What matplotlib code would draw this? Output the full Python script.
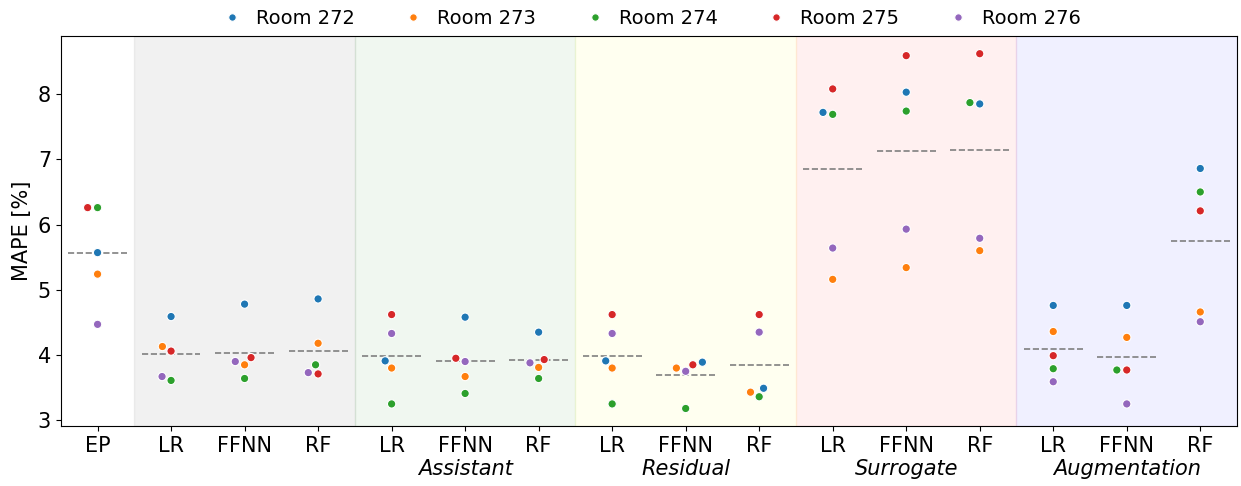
import matplotlib
matplotlib.use("Agg")
import matplotlib.pyplot as plt
import numpy as np
import pandas as pd
import seaborn as sns

rooms = ['Room 272', 'Room 273', 'Room 274', 'Room 275', 'Room 276']
models = ['EP',
          'LR', 'FFNN', 'RF',
          'LR', 'FFNN', 'RF',
          'LR', 'FFNN', 'RF',
          'LR', 'FFNN', 'RF',
          'LR', 'FFNN', 'RF']
groups = ['', 'Assistant', 'Residual', 'Surrogate', 'Augmentation']
group_colors = ['gray', 'green', 'yellow', 'red', 'blue']
group_alpha = [0.11, 0.06, 0.06, 0.06, 0.06]

# MAPE per room, one list per room, 16 model columns in order above
mape_272 = [5.57, 4.59, 4.78, 4.86, 3.91, 4.58, 4.35, 3.91, 3.89, 3.49,
            7.72, 8.03, 7.85, 4.76, 4.76, 6.86]
mape_273 = [5.24, 4.13, 3.85, 4.18, 3.80, 3.67, 3.81, 3.80, 3.80, 3.43,
            5.16, 5.34, 5.60, 4.36, 4.27, 4.66]
mape_274 = [6.26, 3.61, 3.64, 3.85, 3.25, 3.41, 3.64, 3.25, 3.18, 3.36,
            7.69, 7.74, 7.87, 3.79, 3.77, 6.50]
mape_275 = [6.26, 4.06, 3.96, 3.71, 4.62, 3.95, 3.93, 4.62, 3.85, 4.62,
            8.08, 8.59, 8.62, 3.99, 3.77, 6.21]
mape_276 = [4.47, 3.67, 3.90, 3.73, 4.33, 3.90, 3.88, 4.33, 3.75, 4.35,
            5.64, 5.93, 5.79, 3.59, 3.25, 4.51]

values = np.array([mape_272, mape_273, mape_274, mape_275, mape_276])
n = len(models)

rows = []
for r, room in enumerate(rooms):
    for i in range(n):
        rows.append({'pos': i, 'room': room, 'mape': values[r, i]})
df = pd.DataFrame(rows)

fig, ax = plt.subplots(figsize=(12.41, 4.86), dpi=100)
fig.subplots_adjust(left=0.049, right=0.9968, top=0.926, bottom=0.123)

# background spans for each group of three models
for g in range(5):
    ax.axvspan(0.5 + 3 * g, 3.5 + 3 * g, color=group_colors[g],
               alpha=group_alpha[g], zorder=0)

sns.swarmplot(data=df, x='pos', y='mape', hue='room', order=list(range(n)),
              hue_order=rooms, size=6, edgecolor='white', linewidth=0.8,
              palette='tab10', ax=ax, zorder=3)

# mean line per model
means = values.mean(axis=0)
for i in range(n):
    ax.hlines(means[i], i - 0.4, i + 0.4, colors='gray', linestyles='--',
              linewidth=1.2, zorder=2)

ax.set_xlim(-0.5, n - 0.5)
ax.set_xticks(range(n))
ax.set_xticklabels(models)
ax.tick_params(axis='both', labelsize=15)
ax.set_xlabel('')
ax.set_ylabel('MAPE [%]', fontsize=15)

for g in range(1, 5):
    ax.text(3 * g + 2, -0.083, groups[g], transform=ax.get_xaxis_transform(),
            ha='center', va='top', fontsize=15, style='italic')

ax.legend(loc='lower center', bbox_to_anchor=(0.498, 0.975), ncol=5,
          frameon=False, fontsize=14, handletextpad=0.25, columnspacing=2.0,
          markerscale=0.9)

plt.savefig('out.png')
